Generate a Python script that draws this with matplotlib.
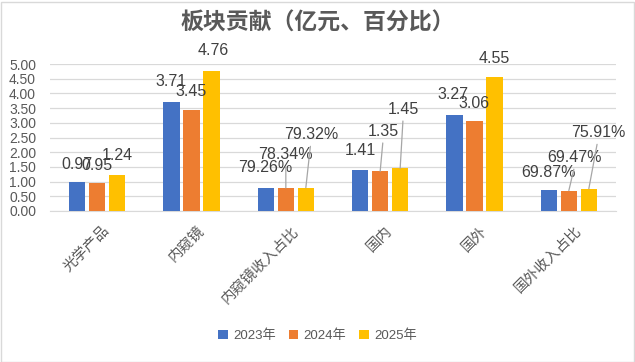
import matplotlib
matplotlib.use("Agg")
import matplotlib.pyplot as plt
from matplotlib.patches import Rectangle
from matplotlib.transforms import ScaledTranslation
import numpy as np

categories = ["光学产品", "内窥镜", "内窥镜收入占比", "国内", "国外", "国外收入占比"]
series_names = ["2023年", "2024年", "2025年"]
v2023 = [0.97, 3.71, 0.7926, 1.41, 3.27, 0.6987]
v2024 = [0.95, 3.45, 0.7834, 1.35, 3.06, 0.6947]
v2025 = [1.24, 4.76, 0.7932, 1.45, 4.55, 0.7591]
is_percent = [False, False, True, False, False, True]
y_ticks = [0.0, 0.5, 1.0, 1.5, 2.0, 2.5, 3.0, 3.5, 4.0, 4.5, 5.0]
title = "板块贡献（亿元、百分比）"

colors = ["#4472C4", "#ED7D31", "#FFC000"]
text_color = "#595959"
grid_color = "#D9D9D9"

# label offsets in pixels (dx, dy) per series per category; leader line flag
offsets = [
    [(0, 18), (0, 20), (-1, 20), (0, 19), (-2, 20), (0, 18)],
    [(0, 18), (0, 18), (0, 33), (3, 40), (0, 18), (6, 33)],
    [(0, 19), (2, 21), (5, 53), (3, 59), (0, 19), (9, 56)],
]
leader = [
    [False] * 6,
    [False, False, True, True, False, True],
    [False, False, True, True, False, True],
]

plt.rcParams['font.family'] = ['Liberation Sans', 'Noto Sans CJK SC', 'DejaVu Sans']

fig = plt.figure(figsize=(6.35, 3.62), dpi=100)
ax = fig.add_axes([50/635, 1 - 211/362, 566/635, 147/362])

x = np.arange(len(categories))
width = 0.17
step = 0.212
all_series = [v2023, v2024, v2025]
for i, (vals, name, c) in enumerate(zip(all_series, series_names, colors)):
    xs = x + (i - 1) * step
    ax.bar(xs, vals, width=width, color=c, label=name, zorder=3)
    for j, (xx, v) in enumerate(zip(xs, vals)):
        txt = f"{v*100:.2f}%" if is_percent[j] else f"{v:.2f}"
        dx, dy = offsets[i][j]
        kw = {}
        if leader[i][j]:
            kw['arrowprops'] = dict(arrowstyle='-', color='#A6A6A6', lw=0.9,
                                    shrinkA=1, shrinkB=0, relpos=(0.5, 0.0))
        ax.annotate(txt, xy=(xx, v), xytext=(dx, dy), textcoords='offset pixels',
                    ha='center', va='center', fontsize=11.5, color='#404040',
                    zorder=5, **kw)

ax.set_xlim(-0.5, len(categories) - 0.5)
ax.set_ylim(0, 5)
ax.set_yticks(y_ticks)
ax.set_yticklabels([f"{t:.2f}" for t in y_ticks])
ax.yaxis.grid(True, color=grid_color, lw=0.9, zorder=0)
ax.set_axisbelow(True)
for s in ['top', 'right', 'left']:
    ax.spines[s].set_visible(False)
ax.spines['bottom'].set_color(grid_color)
ax.tick_params(axis='y', length=0, pad=10, labelsize=10, labelcolor=text_color)
ax.tick_params(axis='x', length=0, pad=9, labelsize=10.5, labelcolor=text_color)
ax.set_xticks(x)
ax.set_xticklabels(categories, rotation=45, ha='right', rotation_mode='anchor',
                   family=['Noto Sans CJK SC', 'DejaVu Sans'])
shift = ScaledTranslation(5/100, 0, fig.dpi_scale_trans)
for lbl in ax.get_xticklabels():
    lbl.set_transform(lbl.get_transform() + shift)

fig.text(0.5, 1 - 23/362, title, ha='center', va='center', fontsize=16.5,
         fontweight='bold', color=text_color, family=['Noto Sans CJK SC', 'DejaVu Sans'])

leg = fig.legend(loc='center', bbox_to_anchor=(0.5, 1 - 336/362), ncol=3,
                 frameon=False, handlelength=0.7, handleheight=0.7,
                 handletextpad=0.4, columnspacing=1.0,
                 prop={'family': ['Liberation Sans', 'Noto Sans CJK SC'], 'size': 9.5})
for t in leg.get_texts():
    t.set_color(text_color)

fig.patches.append(Rectangle((0.5/635, 0.5/362), 633/635, 360/362, transform=fig.transFigure,
                             fill=False, edgecolor='#D9D9D9', lw=1))

fig.savefig("out.png", dpi=100)
